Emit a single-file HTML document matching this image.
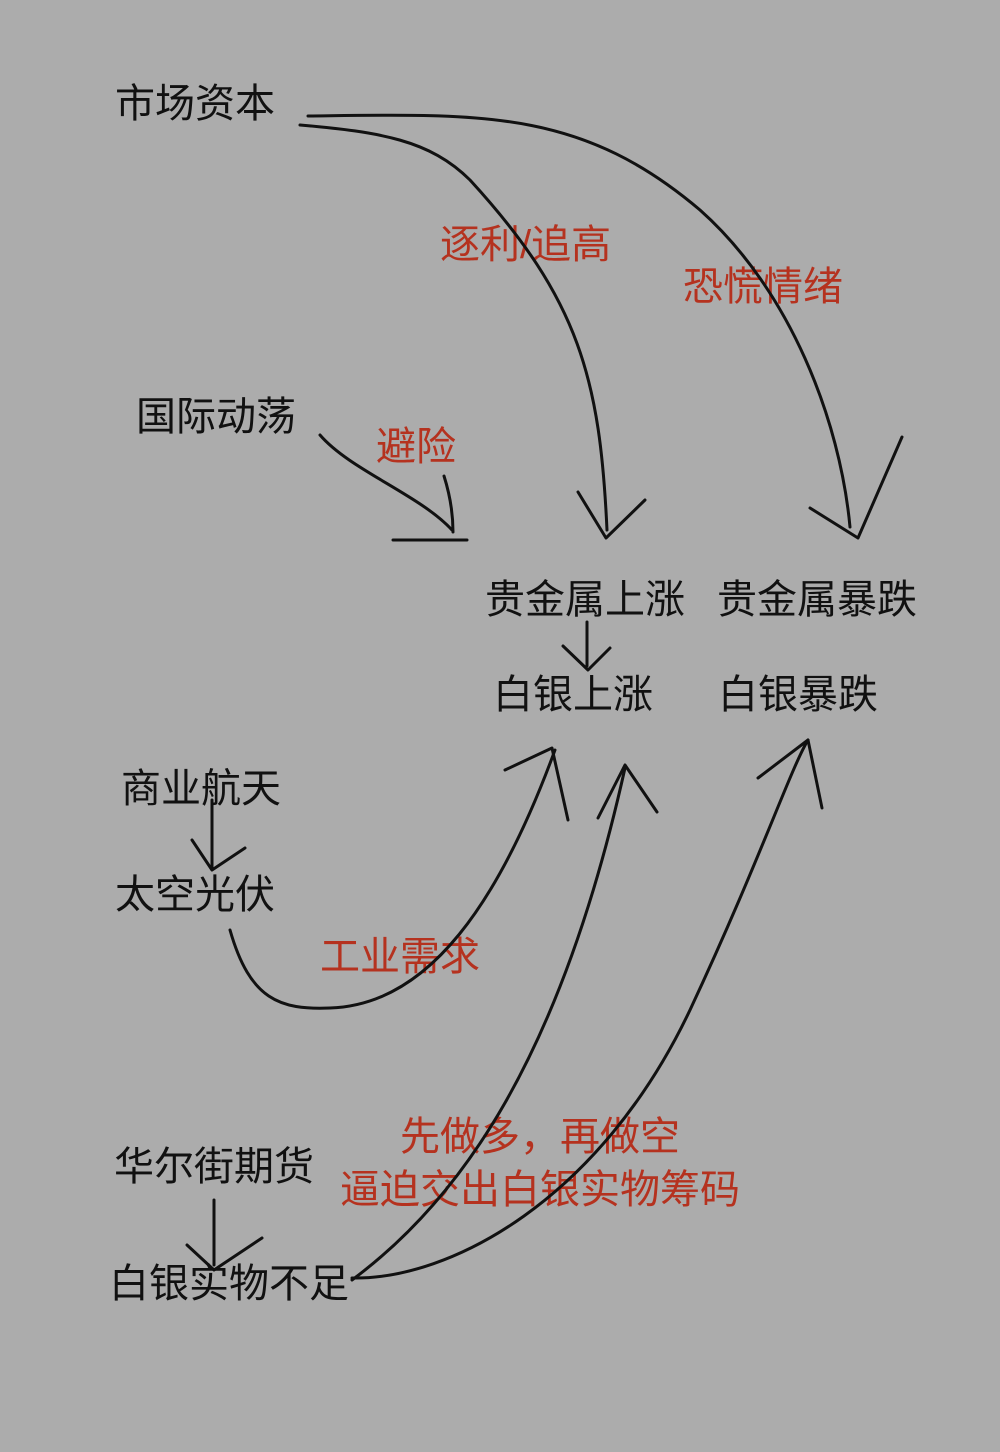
<!DOCTYPE html>
<html><head><meta charset="utf-8"><style>
html,body{margin:0;padding:0;background:#acacac;}
svg{display:block}
text{font-family:"Liberation Sans","Noto Sans CJK SC",sans-serif;font-size:40px;}
.k{fill:#111;}
.r{fill:#b5321f;font-size:40px;}
path,line,polyline{fill:none;stroke:#111;stroke-width:3;stroke-linecap:round;stroke-linejoin:round;}
</style></head><body>
<svg width="1000" height="1452" viewBox="0 0 1000 1452" xmlns="http://www.w3.org/2000/svg">
<rect width="1000" height="1452" fill="#acacac"/>
<text class="k" x="115" y="117">市场资本</text>
<text class="r" x="440" y="258">逐利/追高</text>
<text class="r" x="683" y="300">恐慌情绪</text>
<text class="k" x="136" y="430">国际动荡</text>
<text class="r" x="376" y="460">避险</text>
<text class="k" x="485" y="613">贵金属上涨</text>
<text class="k" x="717" y="613">贵金属暴跌</text>
<text class="k" x="493" y="708">白银上涨</text>
<text class="k" x="718" y="708">白银暴跌</text>
<text class="k" x="121" y="802">商业航天</text>
<text class="k" x="115" y="908">太空光伏</text>
<text class="r" x="320" y="970">工业需求</text>
<text class="r" x="400" y="1150">先做多，再做空</text>
<text class="r" x="340" y="1203">逼迫交出白银实物筹码</text>
<text class="k" x="114" y="1180">华尔街期货</text>
<text class="k" x="109" y="1297">白银实物不足</text>

<path d="M308,116 C480,114 580,108 700,210 C790,290 840,420 850,527"/>
<polyline points="810,508 858,538 902,437"/>
<path d="M300,125 C380,132 430,140 470,180 C580,300 600,380 607,530"/>
<polyline points="578,492 606,538 645,500"/>
<path d="M320,435 C350,470 420,495 452,530"/>
<path d="M444,476 C450,495 453,515 453,532"/>
<line x1="393" y1="540" x2="467" y2="540"/>
<line x1="587" y1="622" x2="587" y2="666"/>
<polyline points="563,646 588,670 610,648"/>
<line x1="212" y1="800" x2="212" y2="868"/>
<polyline points="192,840 212,870 245,848"/>
<path d="M230,930 C250,1000 280,1010 330,1008 C430,1005 500,900 555,750"/>
<polyline points="505,770 552,748 568,820"/>
<path d="M352,1280 C460,1200 560,1060 625,768"/>
<polyline points="598,818 625,765 657,812"/>
<path d="M352,1278 C450,1280 600,1200 690,1010 C760,860 790,770 808,740"/>
<polyline points="758,778 808,740 822,808"/>
<line x1="214" y1="1200" x2="214" y2="1265"/>
<polyline points="187,1245 214,1270 262,1238"/>
</svg>
</body></html>
